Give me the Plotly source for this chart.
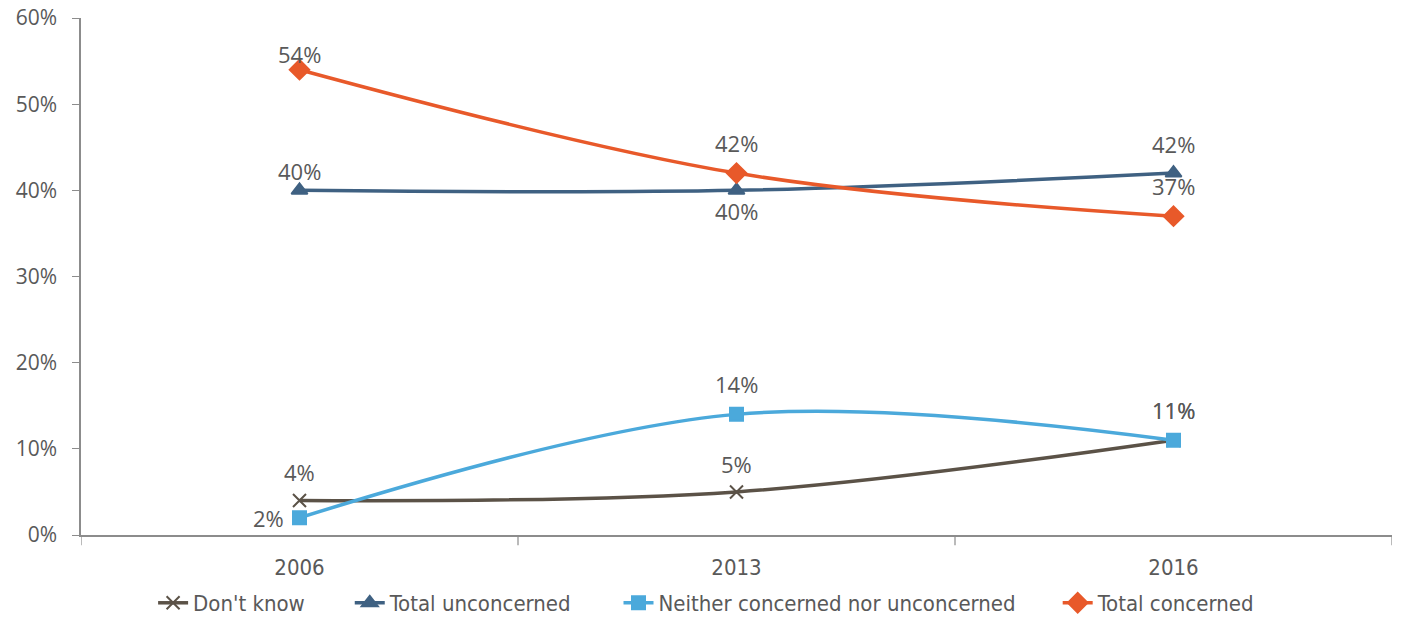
import plotly.graph_objects as go

# ---------------------------------------------------------
# DATA
# ---------------------------------------------------------
years = ["2006", "2013", "2016"]
dont_know = [4, 5, 11]
total_unconcerned = [40, 40, 42]
neither = [2, 14, 11]
total_concerned = [54, 42, 37]

y_ticks = [0, 10, 20, 30, 40, 50, 60]

x_pos = list(range(len(years)))
label_color = "#595959"
label_font = dict(family="Open Sans, Lato, sans-serif", size=22, color=label_color)
narrow = "Liberation Sans Narrow, DejaVu Sans Condensed, sans-serif"

# name, values, colour, marker, size, label offsets (dx, dy), legend x
series = [
    ("Don't know", dont_know, "#5B5247", "x-thin-open", 13,
     [(0, 29), (0, 28), (0, 30)], 0.055),
    ("Total unconcerned", total_unconcerned, "#3F6182", "triangle-up", 14,
     [(0, 19), (0, -21), (0, 29)], 0.205),
    ("Neither concerned nor unconcerned", neither, "#4BA9DB", "square", 13,
     [(-31, 0), (0, 30), (0, 30)], 0.410),
    ("Total concerned", total_concerned, "#E8592A", "diamond", 15,
     [(0, 16), (0, 30), (0, 30)], 0.745),
]

fig = go.Figure()
legend_layout = {}
for i, (name, vals, color, symbol, size, offsets, lx) in enumerate(series):
    leg = "legend" if i == 0 else f"legend{i + 1}"
    fig.add_trace(go.Scatter(
        x=x_pos,
        y=vals,
        name=name,
        mode="lines+markers",
        line=dict(color=color, width=3.5, shape="spline", smoothing=1),
        marker=dict(symbol=symbol, size=size, color=color,
                    line=dict(color=color, width=2)),
        cliponaxis=False,
        legend=leg,
    ))
    legend_layout[leg] = dict(
        orientation="h",
        x=lx, xanchor="left",
        y=-0.1315, yanchor="middle",
        font=dict(family=narrow, size=22, color=label_color),
        bgcolor="rgba(0,0,0,0)",
    )
    for xi, v, (dx, dy) in zip(x_pos, vals, offsets):
        fig.add_annotation(x=xi, y=v, text=f"{v}%", showarrow=False,
                           xshift=dx, yshift=dy, font=label_font)

# ---------------------------------------------------------
# LAYOUT
# ---------------------------------------------------------
fig.update_layout(
    width=1401,
    height=618,
    plot_bgcolor="white",
    paper_bgcolor="white",
    margin=dict(l=81, r=9, t=18, b=83, autoexpand=False),
    showlegend=True,
    **legend_layout,
    xaxis=dict(
        range=[-0.5, 2.5],
        tickvals=x_pos,
        ticktext=years,
        ticks="",
        showgrid=False,
        zeroline=False,
        showline=True,
        linecolor="#8C8C8C",
        linewidth=1.5,
        tickfont=dict(family=narrow, size=22, color=label_color),
        ticklabelstandoff=12,
        automargin=False,
    ),
    yaxis=dict(
        range=[0, 60],
        tickvals=y_ticks,
        ticktext=[f"{v}%" for v in y_ticks],
        ticks="outside",
        ticklen=7,
        tickcolor="#8C8C8C",
        showgrid=False,
        zeroline=False,
        showline=True,
        linecolor="#8C8C8C",
        linewidth=1.5,
        tickfont=dict(family="Open Sans, Lato, sans-serif", size=21, color=label_color),
        ticklabelstandoff=11,
        automargin=False,
    ),
)

# category boundary tick marks on the x axis (Excel style)
for b in [-0.5, 0.5, 1.5, 2.5]:
    fig.add_shape(type="line", xref="x", yref="paper",
                  x0=b, x1=b, y0=0, y1=-0.02,
                  line=dict(color="#8C8C8C", width=1.2))

fig.write_html(
    "out.html",
    config={"displayModeBar": False},
    post_script="document.body.style.margin='0';document.body.style.overflow='hidden';",
)
